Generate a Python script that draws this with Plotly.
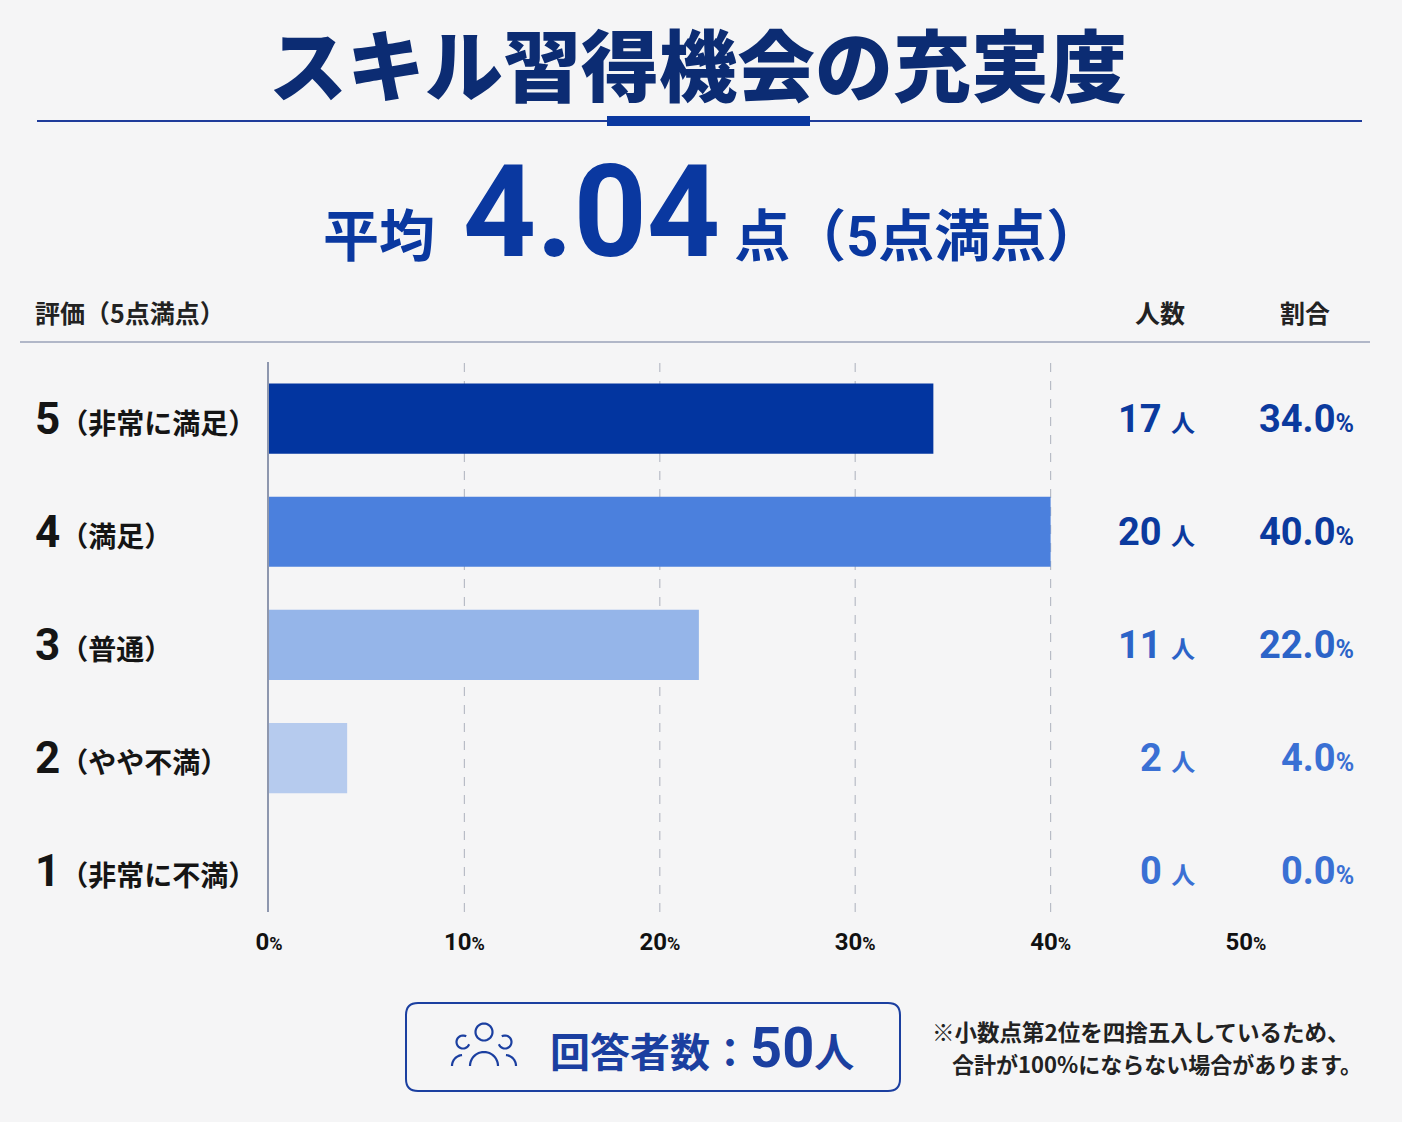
import math

import plotly.graph_objects as go

W, H = 1402, 1122

# data
RATINGS = ["1", "2", "3", "4", "5"]
RATING_NAMES = ["非常に不満", "やや不満", "普通", "満足", "非常に満足"]
COUNTS = [0, 2, 11, 20, 17]
PCT = [0.0, 4.0, 22.0, 40.0, 34.0]
X_TICKS = [0, 10, 20, 30, 40, 50]
GRID_TICKS = [10, 20, 30, 40]
AVERAGE = "4.04"
TOTAL = 50

BAR_COLORS = ["#B6CBEE", "#B6CBEE", "#95B5E9", "#4B80DD", "#0235A0"]
VALUE_COLORS = ["#3A70D4", "#3A70D4", "#2C64C8", "#0B3A9E", "#0B3A9E"]
NAVY = "#0C2C73"
BLUE = "#0A38A0"
BG = "#F5F5F6"

FONT = 'Roboto, "Noto Sans CJK JP", sans-serif'
JP = '"Noto Sans CJK JP", sans-serif'


def px(x):
    return x / W


def py(y):
    return 1 - y / H


def label(x, y, text, size, color, family=FONT, xanchor="center", yref="paper", weight=None):
    font = dict(family=family, size=size, color=color)
    if weight:
        font["weight"] = weight
    return dict(x=px(x), y=py(y) if yref == "paper" else y, xref="paper", yref=yref,
                xanchor=xanchor, yanchor="middle", showarrow=False, text=text, font=font)


def arc_path(cx, cy, r, a0, a1, n=24):
    # polyline arc in pixel space, angles in degrees (0 = right, clockwise on screen)
    pts = []
    for k in range(n + 1):
        a = math.radians(a0 + (a1 - a0) * k / n)
        pts.append((px(cx + r * math.cos(a)), py(cy + r * math.sin(a))))
    return "M " + " L ".join(f"{x},{y}" for x, y in pts)


fig = go.Figure(
    go.Bar(
        x=PCT,
        y=RATINGS,
        orientation="h",
        width=0.62,
        marker=dict(color=BAR_COLORS, line=dict(width=0)),
        hoverinfo="skip",
    )
)

# dashed grid lines
shapes = []
for g in GRID_TICKS:
    shapes.append(dict(type="line", xref="x", yref="y domain", x0=g, x1=g, y0=0, y1=1,
                       line=dict(color="#B8BCC6", width=1.2, dash="dash"), layer="below"))

# title rule
shapes.append(dict(type="line", xref="paper", yref="paper", x0=px(37), x1=px(1362),
                   y0=py(121), y1=py(121), line=dict(color="#1F3C9A", width=2)))
shapes.append(dict(type="rect", xref="paper", yref="paper", x0=px(607), x1=px(810),
                   y0=py(126), y1=py(116), fillcolor="#0A38A0", line=dict(width=0)))
# header rule
shapes.append(dict(type="line", xref="paper", yref="paper", x0=px(20), x1=px(1370),
                   y0=py(342), y1=py(342), line=dict(color="#9AA2B8", width=1.5)))

# rounded box
bx0, bx1, by0, by1, r = 406, 900, 1003, 1091, 12
box = (f"M {px(bx0 + r)},{py(by0)} L {px(bx1 - r)},{py(by0)} "
       f"Q {px(bx1)},{py(by0)} {px(bx1)},{py(by0 + r)} L {px(bx1)},{py(by1 - r)} "
       f"Q {px(bx1)},{py(by1)} {px(bx1 - r)},{py(by1)} L {px(bx0 + r)},{py(by1)} "
       f"Q {px(bx0)},{py(by1)} {px(bx0)},{py(by1 - r)} L {px(bx0)},{py(by0 + r)} "
       f"Q {px(bx0)},{py(by0)} {px(bx0 + r)},{py(by0)} Z")
shapes.append(dict(type="path", xref="paper", yref="paper", path=box,
                   line=dict(color="#1B3FA0", width=2)))

# people icon
icon = dict(color="#1B3FA0", width=2.2)
for path in [
    arc_path(484, 1032, 8.5, 0, 360, 36),      # centre head
    arc_path(463, 1042, 6.5, 20, 300),         # left head
    arc_path(505, 1042, 6.5, -120, 160),       # right head
    arc_path(484, 1066, 14, 180, 360),         # centre body
    arc_path(463, 1066, 11, 180, 265),         # left body
    arc_path(505, 1066, 11, 275, 360),         # right body
]:
    shapes.append(dict(type="path", xref="paper", yref="paper", path=path, line=icon))

ann = [
    label(698, 62, "スキル習得機会の充実度", 78, NAVY, JP, weight=900),
    label(712, 212, f"<b>平均  <span style='font-size:128px'>{AVERAGE}</span> 点（5点満点）</b>",
          56, BLUE),
    label(33, 312, "<b>評価（5点満点）</b>", 25, "#222222", JP, "left"),
    label(1160, 312, "<b>人数</b>", 25, "#222222", JP),
    label(1305, 312, "<b>割合</b>", 25, "#222222", JP),
]

for i, (rt, name, cnt, pct, col) in enumerate(zip(RATINGS, RATING_NAMES, COUNTS, PCT, VALUE_COLORS)):
    ann.append(label(33, i, f"<b><span style='font-size:44px'>{rt}</span>（{name}）</b>",
                     28, "#151515", xanchor="left", yref="y"))
    ann.append(label(1197, i, f"<b>{cnt} <span style='font-size:24px'>人</span></b>",
                     38, col, xanchor="right", yref="y"))
    ann.append(label(1356, i, f"<b>{pct:.1f}<span style='font-size:25px'>%</span></b>",
                     38, col, xanchor="right", yref="y"))

ann += [
    label(548, 1048, f"<b>回答者数：<span style='font-size:56px'>{TOTAL}</span>人</b>",
          40, "#1B3FA0", xanchor="left"),
    label(930, 1031, "<b>※小数点第2位を四捨五入しているため、</b>", 22.5, "#222222", JP, "left"),
    label(950, 1063, "<b>合計が100%にならない場合があります。</b>", 22, "#222222", JP, "left"),
]

fig.update_layout(
    width=W, height=H,
    margin=dict(l=0, r=0, t=0, b=0, pad=0, autoexpand=False),
    paper_bgcolor=BG, plot_bgcolor=BG,
    showlegend=False,
    shapes=shapes,
    annotations=ann,
    xaxis=dict(domain=[px(269), px(1246)], range=[0, 50], tickvals=X_TICKS,
               ticktext=[f"<b>{t}<span style='font-size:18px'>%</span></b>" for t in X_TICKS],
               tickfont=dict(family=FONT, size=24, color="#111111"),
               showgrid=False, zeroline=False, showline=False, ticks="",
               ticklabelstandoff=13, fixedrange=True, automargin=False),
    yaxis=dict(domain=[py(912), py(362)], range=[-0.36, 4.5], type="category",
               categoryorder="array", categoryarray=RATINGS,
               showticklabels=False, showgrid=False, zeroline=False,
               showline=True, linecolor="#8E97AE", linewidth=1.5, ticks="",
               fixedrange=True, automargin=False),
)

fig.write_html(
    "out.html",
    config={"displayModeBar": False, "responsive": False},
    post_script="document.body.style.margin='0';document.body.style.overflow='hidden';",
)
